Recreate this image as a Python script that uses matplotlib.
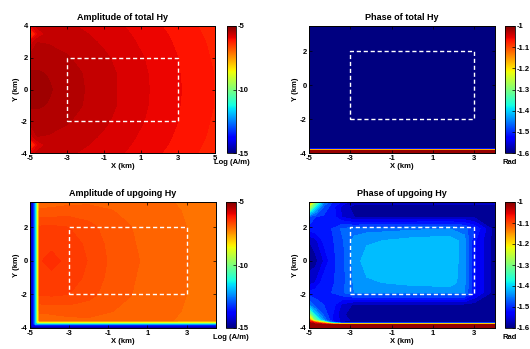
import numpy as np
import matplotlib

matplotlib.use("Agg")
import matplotlib.pyplot as plt
from matplotlib.colors import Normalize
from matplotlib.cm import ScalarMappable

plt.rcParams["font.family"] = ["Liberation Sans", "DejaVu Sans"]
plt.rcParams["font.weight"] = "bold"
plt.rcParams["axes.unicode_minus"] = False

# ---- data ----
# amplitude of total Hy, log10 (A/m)
amp_tot_x = [-5, -4.6, -4, -3, -2, -1, 0, 1, 2, 3, 4, 5]
amp_tot_y = [-4, -3.5, -3, -2, -1, 0, 1, 2, 3, 3.5, 4]
amp_tot = [
    [-5.95, -5.63, -5.64, -5.67, -5.73, -5.79, -5.86, -5.93, -6.02, -6.10, -6.19, -6.27],
    [-6.80, -5.90, -5.60, -5.63, -5.69, -5.76, -5.83, -5.91, -5.99, -6.08, -6.17, -6.26],
    [-5.85, -5.54, -5.55, -5.59, -5.65, -5.73, -5.80, -5.89, -5.97, -6.06, -6.15, -6.24],
    [-5.44, -5.44, -5.46, -5.52, -5.59, -5.67, -5.76, -5.85, -5.94, -6.03, -6.13, -6.22],
    [-5.35, -5.35, -5.38, -5.46, -5.55, -5.64, -5.73, -5.83, -5.92, -6.02, -6.11, -6.20],
    [-5.25, -5.29, -5.35, -5.44, -5.54, -5.63, -5.73, -5.82, -5.92, -6.01, -6.11, -6.20],
    [-5.35, -5.35, -5.38, -5.46, -5.55, -5.64, -5.73, -5.83, -5.92, -6.02, -6.11, -6.20],
    [-5.44, -5.44, -5.46, -5.52, -5.59, -5.67, -5.76, -5.85, -5.94, -6.03, -6.13, -6.22],
    [-5.85, -5.54, -5.55, -5.59, -5.65, -5.73, -5.80, -5.89, -5.97, -6.06, -6.15, -6.24],
    [-6.80, -5.90, -5.60, -5.63, -5.69, -5.76, -5.83, -5.91, -5.99, -6.08, -6.17, -6.26],
    [-5.95, -5.63, -5.64, -5.67, -5.73, -5.79, -5.86, -5.93, -6.02, -6.10, -6.19, -6.27],
]

# phase of total Hy (rad)
ph_tot_x = [-5, 4]
ph_tot_y = [-4, -3.82, -3.72, 3.5]
ph_tot = [
    [-1.0, -1.0],
    [-1.0, -1.0],
    [-1.6, -1.6],
    [-1.6, -1.6],
]

# amplitude of upgoing Hy, log10 (A/m)
amp_up_x = [-5, -4.85, -4.7, -4.6, -4.5, -3.9, -3, -2, -1, 0, 1, 2, 3, 4, 4.5]
amp_up_y = [-4, -3.85, -3.75, -3.65, -3.55, -3, -2, -1, 0, 1, 2, 3, 3.5]
amp_up = [
    [-15] * 15,
    [-15] + [-14] * 14,
    [-15, -14] + [-11.8] * 13,
    [-15, -14, -11.8] + [-8.8] * 12,
    [-15, -14, -11.8, -8.8, -6.98, -6.96, -6.94, -6.93, -6.96, -6.98, -7.00, -7.03, -7.09, -7.17, -7.20],
    [-15, -14, -11.8, -8.8, -6.88, -6.87, -6.84, -6.84, -6.89, -6.93, -6.96, -7.00, -7.07, -7.16, -7.19],
    [-15, -14, -11.8, -8.8, -6.58, -6.57, -6.60, -6.70, -6.81, -6.89, -6.94, -6.99, -7.05, -7.14, -7.18],
    [-15, -14, -11.8, -8.8, -6.50, -6.48, -6.52, -6.64, -6.78, -6.88, -6.93, -6.98, -7.04, -7.13, -7.17],
    [-15, -14, -11.8, -8.8, -6.46, -6.41, -6.49, -6.61, -6.76, -6.87, -6.92, -6.97, -7.04, -7.12, -7.17],
    [-15, -14, -11.8, -8.8, -6.50, -6.48, -6.52, -6.64, -6.78, -6.88, -6.93, -6.98, -7.04, -7.13, -7.17],
    [-15, -14, -11.8, -8.8, -6.58, -6.57, -6.60, -6.70, -6.81, -6.89, -6.94, -6.99, -7.05, -7.14, -7.18],
    [-15, -14, -11.8, -8.8, -6.88, -6.87, -6.84, -6.84, -6.89, -6.93, -6.96, -7.00, -7.07, -7.16, -7.19],
    [-15, -14, -11.8, -8.8, -6.98, -6.96, -6.94, -6.93, -6.96, -6.98, -7.00, -7.03, -7.09, -7.17, -7.20],
]

# phase of upgoing Hy (rad)
ph_up_x = [-5, -4.7, -4.3, -3.9, -3.4, -2.8, -2.2, 0, 1.8, 2.5, 3.0, 4]
ph_up_y = [-4, -3.8, -3.68, -3.55, -3.2, -2.6, -1.9, -1.3, 0, 1.2, 1.9, 2.6, 3.2, 3.5]
ph_up = [
    [-1.0] * 12,
    [-1.0] * 12,
    [-1.02, -1.08, -1.2, -1.45, -1.6, -1.6, -1.6, -1.6, -1.6, -1.6, -1.6, -1.6],
    [-1.1, -1.3, -1.44, -1.52, -1.56, -1.585, -1.585, -1.585, -1.585, -1.585, -1.585, -1.59],
    [-1.28, -1.4, -1.48, -1.52, -1.57, -1.59, -1.59, -1.59, -1.59, -1.59, -1.59, -1.59],
    [-1.45, -1.49, -1.5, -1.51, -1.555, -1.58, -1.58, -1.58, -1.58, -1.58, -1.585, -1.59],
    [-1.52, -1.51, -1.5, -1.5, -1.48, -1.45, -1.45, -1.45, -1.45, -1.45, -1.52, -1.59],
    [-1.56, -1.55, -1.51, -1.505, -1.485, -1.445, -1.43, -1.415, -1.41, -1.44, -1.52, -1.59],
    [-1.59, -1.585, -1.55, -1.51, -1.485, -1.44, -1.41, -1.41, -1.41, -1.435, -1.52, -1.59],
    [-1.575, -1.56, -1.52, -1.505, -1.48, -1.44, -1.43, -1.415, -1.41, -1.435, -1.52, -1.59],
    [-1.51, -1.51, -1.5, -1.5, -1.47, -1.465, -1.46, -1.455, -1.45, -1.465, -1.5, -1.59],
    [-1.48, -1.5, -1.505, -1.51, -1.55, -1.575, -1.575, -1.575, -1.575, -1.575, -1.58, -1.59],
    [-1.25, -1.38, -1.48, -1.51, -1.56, -1.585, -1.585, -1.585, -1.585, -1.585, -1.585, -1.585],
    [-1.12, -1.3, -1.44, -1.5, -1.53, -1.565, -1.565, -1.565, -1.565, -1.565, -1.565, -1.565],
]

# survey area outline (dashed box)
box_x = [-3, 3, 3, -3, -3]
box_y = [-2, -2, 2, 2, -2]

amp_cticks = [-5, -10, -15]
ph_cticks = [-1, -1.1, -1.2, -1.3, -1.4, -1.5, -1.6]
ph_clabels = ["-1", "-1.1", "-1.2", "-1.3", "-1.4", "-1.5", "-1.6"]

W, H = 530, 349


def rect(x0, y0, x1, y1):
    """pixel box (top-left origin) -> figure fraction"""
    return [x0 / W, 1 - y1 / H, (x1 - x0) / W, (y1 - y0) / H]


def panel(fig, ax_px, cb_px, x, y, z, levels, vmin, vmax, xlim, ylim, xticks, yticks,
          title, cticks, clabels, clabel):
    ax = fig.add_axes(rect(*ax_px))
    cax = fig.add_axes(rect(*cb_px))
    norm = Normalize(vmin=vmin, vmax=vmax)
    X, Y = np.meshgrid(x, y)
    ax.contourf(X, Y, np.array(z, dtype=float), levels=levels, cmap="jet", norm=norm,
                extend="both")
    ax.plot(box_x, box_y, color="white", lw=1.0, dashes=(3, 2))
    ax.set_xlim(*xlim)
    ax.set_ylim(*ylim)
    ax.set_xticks(xticks)
    ax.set_yticks(yticks)
    ax.tick_params(direction="in", top=True, right=True, length=2.5, width=0.5,
                   labelsize=5.5, pad=1.5)
    for s in ax.spines.values():
        s.set_linewidth(0.7)
    ax.set_title(title, fontsize=6.5, fontweight="bold", pad=4)
    ax.set_xlabel("X (km)", fontsize=5.5, fontweight="bold", labelpad=0.5)
    ax.set_ylabel("Y (km)", fontsize=5.5, fontweight="bold", labelpad=1)

    cb = fig.colorbar(ScalarMappable(norm=norm, cmap="jet"), cax=cax)
    cb.set_ticks(cticks)
    if clabels is not None:
        cb.set_ticklabels(clabels)
    cb.ax.tick_params(direction="in", length=2, width=0.5, labelsize=5.5, pad=1)
    cb.outline.set_linewidth(0.6)
    cax.text(0.5, -0.075, clabel, transform=cax.transAxes, ha="center", va="center",
             fontsize=5.5, fontweight="bold")
    return ax


fig = plt.figure(figsize=(5.3, 3.49), dpi=100)

panel(fig, (30, 26, 215, 153), (227, 26, 236, 153),
      amp_tot_x, amp_tot_y, amp_tot, np.arange(-7.35, -5.1, 0.165), -15, -5,
      (-5, 5), (-4, 4), [-5, -3, -1, 1, 3, 5], [-4, -2, 0, 2, 4],
      "Amplitude of total Hy", amp_cticks, None, "Log (A/m)")

panel(fig, (309, 26, 495, 153), (505, 26, 515, 153),
      ph_tot_x, ph_tot_y, ph_tot, np.linspace(-1.6, -1.0, 25), -1.6, -1.0,
      (-5, 4), (-4, 3.5), [-5, -3, -1, 1, 3], [-4, -2, 0, 2],
      "Phase of total Hy", ph_cticks, ph_clabels, "Rad")

panel(fig, (30, 202, 216, 328), (226, 202, 236, 328),
      amp_up_x, amp_up_y, amp_up, np.arange(-15.0, -4.99, 0.15), -15, -5,
      (-5, 4.5), (-4, 3.5), [-5, -3, -1, 1, 3], [-4, -2, 0, 2],
      "Amplitude of upgoing Hy", amp_cticks, None, "Log (A/m)")

panel(fig, (309, 202, 495, 328), (505, 202, 515, 328),
      ph_up_x, ph_up_y, ph_up, np.linspace(-1.6, -1.0, 25), -1.6, -1.0,
      (-5, 4), (-4, 3.5), [-5, -3, -1, 1, 3], [-4, -2, 0, 2],
      "Phase of upgoing Hy", ph_cticks, ph_clabels, "Rad")

fig.savefig("out.png", dpi=100)
